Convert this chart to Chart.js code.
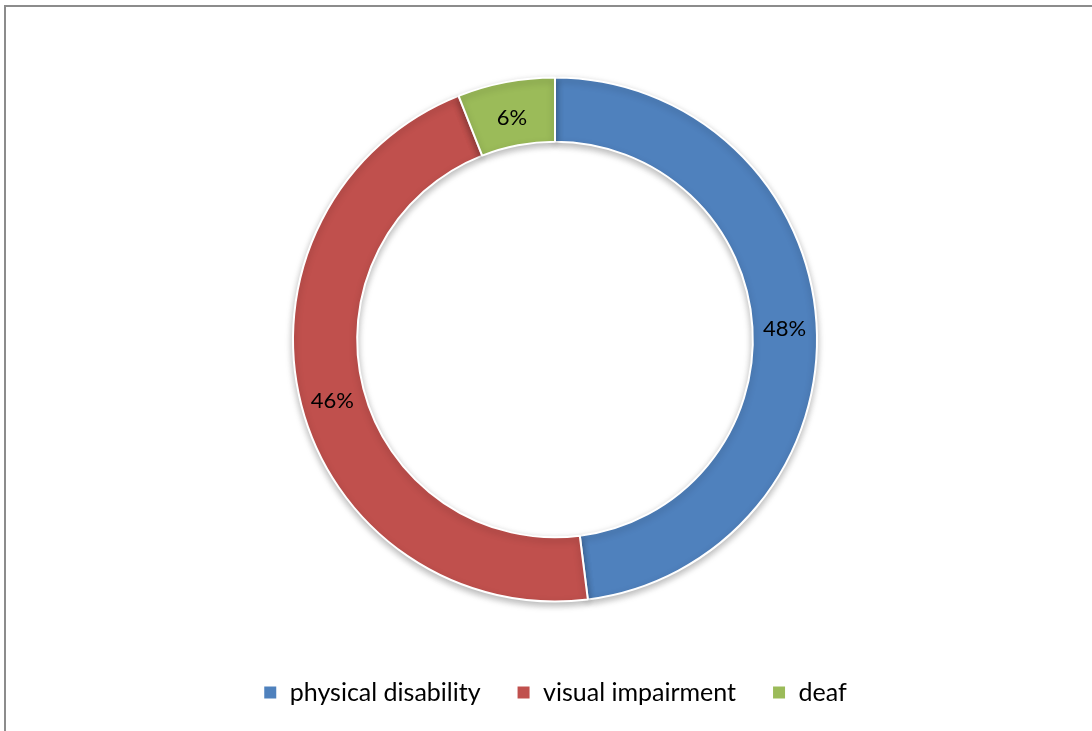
<!DOCTYPE html>
<html>
<head>
<meta charset="utf-8">
<script src="https://cdn.jsdelivr.net/npm/chart.js@4.4.0/dist/chart.umd.min.js"></script>
<style>
  html, body { margin: 0; padding: 0; background: #fff; }
  #wrap { position: relative; width: 1092px; height: 731px; overflow: hidden; }
  #frame { position: absolute; left: 4px; top: 5px; width: 2000px; height: 2000px;
           border-left: 2px solid #8c8c8c; border-top: 2px solid #8c8c8c; }
  canvas { position: absolute; left: 0; top: 0; }
</style>
</head>
<body>
<div id="wrap">
  <div id="frame"></div>
  <canvas id="c" width="1092" height="731"></canvas>
</div>
<script>
const categories = ["physical disability", "visual impairment", "deaf"];
const values = [48, 46, 6];
const colors = ["#4F81BD", "#C0504D", "#9BBB59"];

const labelPlugin = {
  id: 'sliceLabels',
  afterDatasetsDraw(chart) {
    const ctx = chart.ctx;
    const meta = chart.getDatasetMeta(0);
    ctx.save();
    ctx.font = '22px Lato, "Open Sans", sans-serif';
    ctx.fillStyle = '#000';
    ctx.textAlign = 'center';
    ctx.textBaseline = 'middle';
    meta.data.forEach((arc, i) => {
      const p = arc.tooltipPosition();
      ctx.fillText(values[i] + '%', p.x, p.y + 4);
    });
    ctx.restore();
  }
};

const shadowPlugin = {
  id: 'ringShadow',
  beforeDatasetsDraw(chart) {
    const ctx = chart.ctx;
    ctx.save();
    ctx.shadowColor = 'rgba(0,0,0,0.28)';
    ctx.shadowBlur = 7;
    ctx.shadowOffsetX = 0;
    ctx.shadowOffsetY = 3;
  },
  afterDatasetsDraw(chart) {
    chart.ctx.restore();
  }
};

new Chart(document.getElementById('c'), {
  type: 'doughnut',
  data: {
    labels: categories,
    datasets: [{
      data: values,
      backgroundColor: colors,
      borderColor: '#ffffff',
      borderWidth: 2,
      radius: 262
    }]
  },
  options: {
    responsive: false,
    animation: false,
    cutout: '75.5%',
    layout: { padding: { top: 35, left: 18, right: 0, bottom: 16 } },
    plugins: {
      legend: {
        position: 'bottom',
        labels: {
          font: { family: 'Lato, "Open Sans", sans-serif', size: 25 },
          color: '#000',
          boxWidth: 14,
          boxHeight: 14,
          padding: 36
        }
      },
      tooltip: { enabled: false }
    }
  },
  plugins: [shadowPlugin, labelPlugin]
});
</script>
</body>
</html>
